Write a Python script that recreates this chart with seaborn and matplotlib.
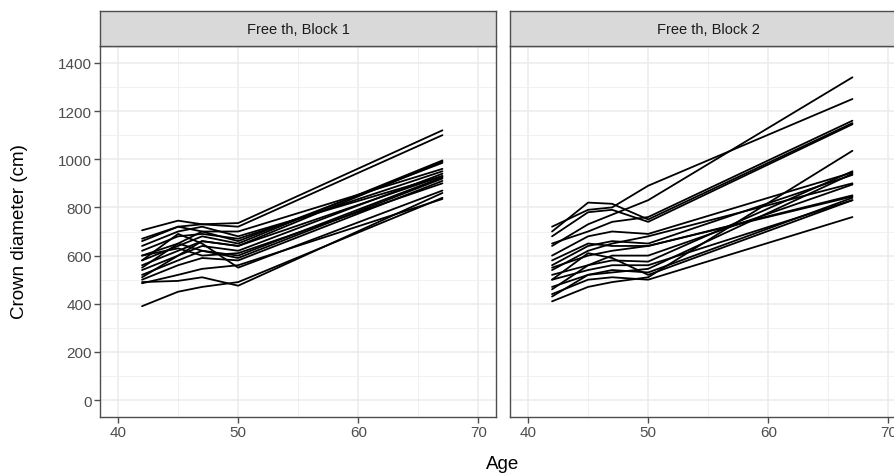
import numpy as np
import pandas as pd
import matplotlib
matplotlib.use("Agg")
import matplotlib.pyplot as plt
import seaborn as sns
from matplotlib.ticker import MultipleLocator

sns.set_style("white")
plt.rcParams['font.family'] = ['Liberation Sans', 'DejaVu Sans']

# measurement ages
ages = [42, 45, 47, 50, 67]

# crown diameter (cm) per tree, one row per tree, values at the ages above
block1_trees = [
    [390, 450, 470, 490, 840],
    [490, 495, 510, 475, 860],
    [485, 520, 545, 560, 835],
    [500, 560, 590, 580, 910],
    [520, 580, 620, 600, 925],
    [540, 600, 640, 620, 940],
    [560, 620, 660, 640, 990],
    [580, 640, 680, 650, 995],
    [600, 650, 700, 660, 985],
    [620, 680, 690, 670, 950],
    [640, 700, 720, 680, 930],
    [660, 720, 700, 700, 960],
    [705, 745, 730, 735, 1120],
    [670, 720, 730, 720, 1100],
    [600, 630, 600, 610, 900],
    [550, 650, 620, 590, 920],
    [510, 600, 660, 640, 930],
    [580, 690, 650, 550, 870],
]
block2_trees = [
    [700, 820, 815, 750, 1150],
    [680, 780, 790, 740, 1145],
    [720, 790, 800, 890, 1250],
    [640, 730, 770, 830, 1340],
    [650, 700, 740, 760, 1160],
    [600, 680, 700, 690, 945],
    [560, 640, 660, 650, 935],
    [550, 600, 620, 640, 845],
    [520, 560, 600, 600, 895],
    [500, 540, 560, 560, 830],
    [470, 520, 540, 530, 840],
    [440, 500, 510, 500, 760],
    [410, 470, 490, 510, 1035],
    [430, 520, 530, 545, 940],
    [460, 560, 580, 575, 950],
    [580, 650, 640, 640, 850],
    [540, 620, 650, 680, 900],
    [500, 610, 590, 520, 830],
]
panel_titles = ["Free th, Block 1", "Free th, Block 2"]


def to_long(trees, block):
    rows = []
    for i, vals in enumerate(trees):
        for a, v in zip(ages, vals):
            rows.append({"block": block, "tree": i, "age": a, "crown": v})
    return rows


df = pd.DataFrame(to_long(block1_trees, panel_titles[0]) + to_long(block2_trees, panel_titles[1]))

W, H = 895, 477
fig = plt.figure(figsize=(W / 100, H / 100), dpi=100)


def rect(x0, y0, x1, y1):
    return [x0 / W, 1 - y1 / H, (x1 - x0) / W, (y1 - y0) / H]


panels = [(100, 496.5), (510, 906.5)]
dark = "#4D4D4D"
for k, (x0, x1) in enumerate(panels):
    ax = fig.add_axes(rect(x0, 47, x1, 418))
    sub = df[df["block"] == panel_titles[k]]
    sns.lineplot(data=sub, x="age", y="crown", units="tree", estimator=None,
                 color="black", linewidth=1.3, ax=ax, legend=False)
    ax.set_xlim(38.5, 71.5)
    ax.set_ylim(-70, 1470)
    ax.xaxis.set_major_locator(MultipleLocator(10))
    ax.xaxis.set_minor_locator(MultipleLocator(5))
    ax.yaxis.set_major_locator(MultipleLocator(200))
    ax.yaxis.set_minor_locator(MultipleLocator(100))
    ax.grid(which="major", color="#EBEBEB", linewidth=1.1)
    ax.grid(which="minor", color="#EFEFEF", linewidth=0.6)
    ax.set_axisbelow(True)
    for s in ax.spines.values():
        s.set_color(dark)
        s.set_linewidth(1.0)
    ax.tick_params(which="major", length=4, width=1.0, color=dark,
                   labelsize=11, labelcolor="#4D4D4D", pad=2,
                   bottom=True, left=(k == 0))
    ax.tick_params(which="minor", length=0)
    ax.set_xlabel("")
    ax.set_ylabel("")
    if k > 0:
        ax.set_yticklabels([])

    sax = fig.add_axes(rect(x0, 12, x1, 47))
    sax.set_facecolor("#D9D9D9")
    sax.set_xticks([])
    sax.set_yticks([])
    for s in sax.spines.values():
        s.set_color(dark)
        s.set_linewidth(1.0)
    sax.text(0.5, 0.5, panel_titles[k], ha="center", va="center",
             fontsize=10.5, color="#1A1A1A", transform=sax.transAxes)

fig.text(503 / W, 1 - 465 / H, "Age", ha="center", va="center", fontsize=13.5, color="black")
fig.text(20 / W, 1 - 232 / H, "Crown diameter (cm)", ha="center", va="center",
         rotation=90, fontsize=13.5, color="black")

fig.savefig("out.png", dpi=100)
